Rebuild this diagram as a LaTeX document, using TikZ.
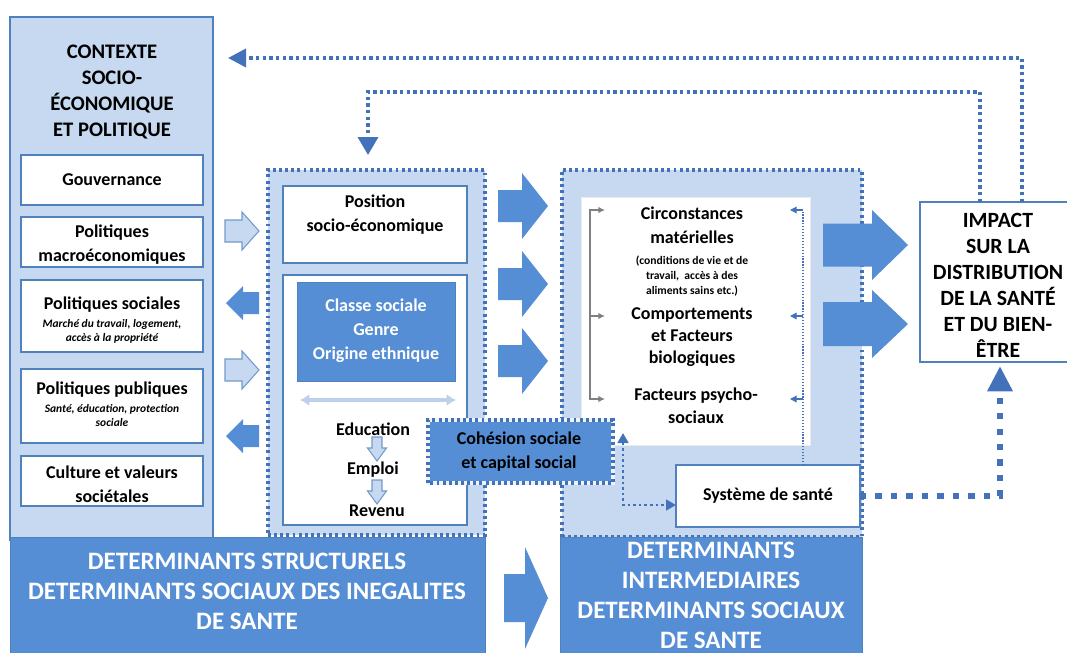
\documentclass[tikz,border=0pt]{standalone}
\usepackage{fontspec}
\setmainfont{Carlito}
\usetikzlibrary{fit,arrows.meta,calc}
\definecolor{dblue}{RGB}{85,142,213}
\definecolor{lblue}{RGB}{198,217,240}
\definecolor{bline}{RGB}{79,129,189}
\definecolor{dotc}{RGB}{68,114,186}
\definecolor{arrlight}{RGB}{188,208,235}
\definecolor{gline}{RGB}{128,128,128}
\newcommand\myfs[2]{\fontsize{#1}{#2}\selectfont}
% block arrow pointing along x: style, tail x, head-start x, tip x, centre y, shaft half, head half
\newcommand\blockR[7]{\path[#1] (#2,#5-#6) -- (#3,#5-#6) -- (#3,#5-#7) -- (#4,#5) -- (#3,#5+#7) -- (#3,#5+#6) -- (#2,#5+#6) -- cycle;}
% block arrow pointing along y: style, tail y, head-start y, tip y, centre x, shaft half, head half
\newcommand\blockD[7]{\path[#1] (#5-#6,#2) -- (#5-#6,#3) -- (#5-#7,#3) -- (#5,#4) -- (#5+#7,#3) -- (#5+#6,#3) -- (#5+#6,#2) -- cycle;}
\tikzset{
  box/.style={inner sep=0pt, outer sep=0pt},
  ctxbox/.style={box, fill=lblue, draw=bline, line width=0.9pt},
  wbox/.style={box, fill=white, draw=bline, line width=0.9pt},
  plainbox/.style={box, fill=white, draw=black!8, line width=0.5pt},
  bluebox/.style={box, fill=dblue, draw=bline, line width=0.6pt},
  banner/.style={box, fill=dblue, draw=bline, line width=0.6pt},
  dotbox/.style={box, fill=lblue, draw=dotc, line width=2.4pt, dash pattern=on 2.2pt off 2.4pt},
  cohfill/.style={box, fill=dblue, draw=white!70!lblue, line width=2.4pt},
  dotline/.style={draw=dotc, line width=2.4pt, dash pattern=on 2.2pt off 2.4pt},
  fbdot/.style={draw=dotc, line width=2.6pt, dash pattern=on 2.4pt off 2.6pt},
  meddot/.style={draw=dotc, line width=1.9pt, dash pattern=on 1.9pt off 2.3pt},
  thindot/.style={draw=dotc, line width=0.9pt, dash pattern=on 0.9pt off 1.3pt},
  thickdot/.style={draw=dotc, line width=4.8pt, dash pattern=on 4.8pt off 6.8pt},
  darr/.style={fill=dblue},
  larr/.style={fill=lblue, draw=bline!80, line width=0.8pt},
  grayarr/.style={draw=gline, line width=1.6pt},
  lbl/.style={font=\bfseries\myfs{13.5}{18}, align=center},
  sub/.style={font=\bfseries\itshape\myfs{8.6}{10.5}, align=center},
  small/.style={font=\bfseries\myfs{8.7}{11.4}, align=center},
  bannertxt/.style={font=\bfseries\myfs{18.8}{22.5}, text=white, align=center},
}
\begin{document}
\begin{tikzpicture}[x=0.75pt,y=-0.75pt]
\useasboundingbox (0,0) rectangle (1067,653);
\clip (0,0) rectangle (1067,653);

% ---------- context column
\node[ctxbox, fit={(10,17)(213,540)}] (ctx) {};
\node[font=\bfseries\myfs{15.5}{19.5}, align=center] (ctxt) at (112,92) {CONTEXTE\\SOCIO-\\ÉCONOMIQUE\\ET POLITIQUE};

\node[wbox, fit={(21,155)(203,205)}] (gov) {};
\node[lbl] (govt) at (112,180) {Gouvernance};
\node[wbox, fit={(21,217)(203,267)}] (macro) {};
\node[lbl] (macrot) at (112,245) {Politiques\\macroéconomiques};
\node[wbox, fit={(21,280)(203,352)}] (soc) {};
\node[lbl] (soct) at (112,305) {Politiques sociales};
\node[sub] (socs) at (112,331) {Marché du travail, logement,\\accès à la propriété};
\node[wbox, fit={(21,369)(203,443)}] (pub) {};
\node[lbl] (pubt) at (112,390) {Politiques publiques};
\node[sub] (pubs) at (112,416) {Santé, éducation, protection\\sociale};
\node[wbox, fit={(21,456)(203,506)}] (cult) {};
\node[lbl] (cultt) at (112,484) {Culture et valeurs\\sociétales};

% ---------- structural determinants
\node[dotbox, fit={(268,170)(485,535)}] (struct) {};
\node[wbox, fit={(283,186)(467,263)}] (pos) {};
\node[lbl] (post) at (375,215) {Position\\socio-économique};
\node[wbox, fit={(283,275)(467,525)}] (strat) {};
\node[bluebox, fit={(297,282)(455,381)}] (csg) {};
\node[lbl, text=white] (csgt) at (376,331) {Classe sociale\\Genre\\Origine ethnique};
\draw[draw=arrlight, line width=3pt, {Latex[length=7pt,width=9pt]}-{Latex[length=7pt,width=9pt]}] (300,400) -- (456,400);
\node[lbl] (edu) at (373,429) {Education};
\node[lbl] (emp) at (373,470) {Emploi};
\node[lbl] (rev) at (377,511) {Revenu};
\blockD{larr}{437}{448}{461}{377}{5}{9.5}
\blockD{larr}{480}{491}{504}{377}{5}{9.5}

% ---------- intermediate determinants
\node[dotbox, fit={(562,170)(862,537)}] (inter) {};
\node[plainbox, fit={(581,197)(810,445)}] (circ) {};
\node[lbl] (circt) at (692,225) {Circonstances\\matérielles};
\node[small] (circs) at (692,276) {(conditions de vie et de\\travail,\ \ accès à des\\aliments sains etc.)};
\node[lbl, font=\bfseries\myfs{13.5}{16.5}] (comp) at (692,337) {Comportements\\et Facteurs\\biologiques};
\node[lbl, font=\bfseries\myfs{13.5}{17.2}] (psy) at (696,406) {Facteurs psycho-\\sociaux};
\node[wbox, fit={(676,465)(860,527)}] (sante) {};
\node[lbl] (santet) at (768,496) {Système de santé};

% grey bracket
\coordinate (g1) at (605,210);
\coordinate (g2) at (605,316);
\coordinate (g3) at (605,399);
\draw[grayarr, {Latex[length=5pt,width=5pt]}-{Latex[length=5pt,width=5pt]}] (g1) -- (590,210) -- (590,399) -- (g3);
\draw[grayarr, -{Latex[length=5pt,width=5pt]}] (590,316) -- (g2);

% thin dotted line on the right of the white box
\coordinate (h1) at (790,210);
\coordinate (h2) at (790,316);
\coordinate (h3) at (790,399);
\coordinate (hx) at (803,0);
\draw[thindot] (sante.north -| hx) -- (803,210);
\foreach \c/\yy in {h1/210,h2/316,h3/399}
  \draw[draw=dotc, line width=1pt, -{Triangle[length=5pt,width=5pt]}] (803,\yy) -- (\c);

% ---------- cohesion sociale
\node[cohfill, fit={(428,420)(613,483)}] (coh) {};
\draw[dotline] (coh.south west) rectangle (coh.north east);
\node[lbl] (coht) at (519,452) {Cohésion sociale\\et capital social};

% two-way dotted arrow
\coordinate (cu) at (623,433);
\draw[meddot, {Triangle[length=7.5pt,width=8pt]}-{Triangle[length=7.5pt,width=8pt]}] (cu) |- ([yshift=-6.75pt]sante.west);

% ---------- impact
\node[wbox, fit={(920,202)(1080,362)}] (impact) {};
\node[font=\bfseries\myfs{16.3}{19.5}, align=center] (impt) at (998,285) {IMPACT\\SUR LA\\DISTRIBUTION\\DE LA SANTÉ\\ET DU BIEN-\\ÊTRE};

% ---------- block arrows
\blockR{larr}{225}{242}{259}{231}{11}{19}
\blockR{darr}{259}{243}{226}{303}{11}{17}
\blockR{larr}{225}{242}{259}{370}{11}{19}
\blockR{darr}{259}{243}{226}{436}{11}{17}

\blockR{darr}{498}{522}{548}{206}{16}{33}
\blockR{darr}{498}{522}{548}{284}{16}{33}
\blockR{darr}{498}{522}{548}{361}{16}{33}

\blockR{darr}{823}{872}{908}{245}{21.5}{35}
\blockR{darr}{823}{872}{908}{324}{22}{34}

% ---------- feedback loops
\coordinate (q1) at (1022,0);
\coordinate (q2) at (980,0);
\coordinate (fbL) at (228,58);
\coordinate (fbT) at (368,155);
\draw[fbdot, -{Triangle[length=13.5pt,width=13.5pt]}] (impact.north -| q1) |- (fbL);
\draw[fbdot, -{Triangle[length=13.5pt,width=15pt]}] (impact.north -| q2) -- ++(0,-110) -| (fbT);
\coordinate (sb) at (1000,366);
\draw[thickdot, -{Triangle[length=19pt,width=18pt]}] (sante.east) -| (sb);

% ---------- banners
\node[banner, fit={(10,537)(485,665)}] (bs) {};
\node[bannertxt] (bst) at (247,591) {DETERMINANTS STRUCTURELS\\DETERMINANTS SOCIAUX DES INEGALITES\\DE SANTE};
\node[banner, fit={(560,537)(862,665)}] (bi) {};
\node[bannertxt] (bit) at (711,595) {DETERMINANTS\\INTERMEDIAIRES\\DETERMINANTS SOCIAUX\\DE SANTE};
\blockR{darr}{504}{525}{548}{598}{24}{51}
\end{tikzpicture}
\end{document}
